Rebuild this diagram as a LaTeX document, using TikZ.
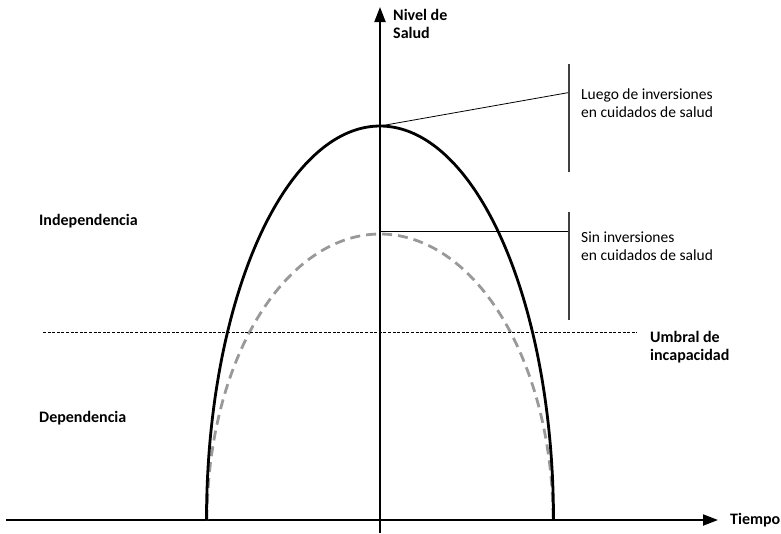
\documentclass[tikz,border=0pt]{standalone}
\usepackage{fontspec}
\setmainfont{Carlito}
\usetikzlibrary{arrows.meta}
\begin{document}
\begin{tikzpicture}[x=1pt,y=-1pt,
  axis/.style={line width=2pt,-{Triangle[length=15pt,width=11pt]}},
  lbl/.style={inner sep=0pt,anchor=west,align=left,font=\fontsize{15.5}{18}\selectfont},
  blbl/.style={lbl,font=\fontsize{16}{18}\selectfont\bfseries},
  leader/.style={line width=0.8pt},
  bar/.style={line width=1.3pt,draw=black!75},
  curveA/.style={line width=2.8pt},
  curveB/.style={line width=2.8pt,draw=black!40,dash pattern=on 10pt off 6pt},
  thresh/.style={line width=0.7pt,dash pattern=on 3pt off 1.6pt}]
\useasboundingbox (0,0) rectangle (781,533);
% axes
\coordinate (xs) at (6,520);
\coordinate (xe) at (718,520);
\coordinate (ys) at (380,533);
\coordinate (ye) at (380,7);
\draw[axis] (xs) -- (xe);
\draw[axis] (ys) -- (ye);
% curves
\draw[curveB] plot[domain=180:0,samples=120,smooth] ({380+173*cos(\x)},{520-286*sin(\x)});
\draw[curveA] plot[domain=180:0,samples=120,smooth] ({380+173.5*cos(\x)},{520-394*sin(\x)});
% threshold
\coordinate (ts) at (43,332);
\coordinate (te) at (637,332);
\draw[thresh] (ts) -- (te);
% leaders
\coordinate (pA) at (380,126);
\coordinate (qA) at (569,92.5);
\coordinate (bA1) at (569,64);
\coordinate (bA2) at (569,172);
\draw[leader] (pA) -- (qA);
\draw[bar] (bA1) -- (bA2);
\coordinate (pB) at (380,231);
\coordinate (qB) at (569,231);
\coordinate (bB1) at (569,211.5);
\coordinate (bB2) at (569,320);
\draw[leader] (pB) -- (qB);
\draw[bar] (bB1) -- (bB2);
% labels
\node[blbl] (nivel) at (393,24.4) {Nivel de\\Salud};
\node[blbl,anchor=base west] (tiempo) at (730,524.3) {Tiempo};
\node[blbl,anchor=base west] (indep) at (39,225.7) {Independencia};
\node[blbl,anchor=base west] (dep) at (39,422.5) {Dependencia};
\node[blbl] (umbral) at (650,347) {Umbral de\\incapacidad};
\node[lbl] (luego) at (581,102.7) {Luego de inversiones\\en cuidados de salud};
\node[lbl] (sin) at (581,246.6) {Sin inversiones\\en cuidados de salud};
\end{tikzpicture}
\end{document}
